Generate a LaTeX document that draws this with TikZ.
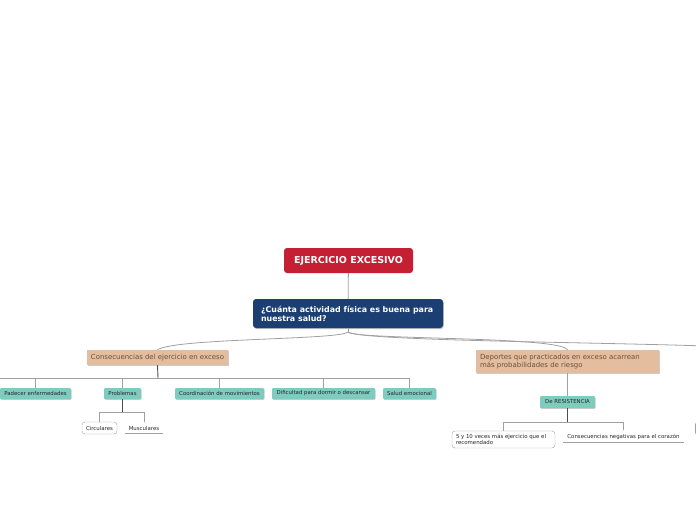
\documentclass[tikz,border=0pt]{standalone}
\usepackage{fontspec}
\setmainfont{DejaVu Sans}
\usetikzlibrary{shadows}

\definecolor{rootred}{HTML}{C41F33}
\definecolor{qblue}{HTML}{1C3F73}
\definecolor{tanfill}{HTML}{E3BD9D}
\definecolor{tantext}{HTML}{6A5040}
\definecolor{tealfill}{HTML}{7ECCBF}
\definecolor{linegray}{HTML}{A0A0A0}

\tikzset{
  rootbox/.style={fill=rootred, rounded corners=3pt, text=white, font=\fontsize{9.5}{10}\selectfont\bfseries,
    minimum width=129pt, minimum height=25pt, inner sep=0pt},
  qbox/.style={fill=qblue, rounded corners=3pt, text=white, font=\fontsize{7.9}{8.9}\selectfont\bfseries,
    minimum width=190pt, minimum height=29pt, inner sep=0pt, align=left,
    drop shadow={shadow xshift=0.8pt, shadow yshift=-1pt, fill=black, opacity=.25}},
  tanbox/.style={fill=tanfill, text=tantext, font=\fontsize{6.95}{8.8}\selectfont, inner sep=0pt,
    drop shadow={shadow xshift=0.6pt, shadow yshift=-0.8pt, fill=black, opacity=.2}},
  tealbox/.style={fill=tealfill, text=black!85, font=\fontsize{5.4}{6.5}\selectfont, inner sep=0pt,
    minimum height=11pt, rounded corners=1pt,
    drop shadow={shadow xshift=0.5pt, shadow yshift=-0.8pt, fill=black, opacity=.2}},
  whitebox/.style={draw=linegray, fill=white, rounded corners=3pt, text=black!85,
    font=\fontsize{5.4}{6.2}\selectfont, inner sep=0pt, align=left},
  underbox/.style={text=black!85, font=\fontsize{5.4}{6.5}\selectfont, inner sep=0pt,
    path picture={\draw[linegray, line width=0.8pt] (path picture bounding box.south west) -- (path picture bounding box.south east);}},
  branch/.style={draw=linegray, line width=0.8pt},
  stem/.style={draw=black!70, line width=0.9pt},
  curve/.style={draw=linegray, line width=0.8pt}
}

\begin{document}
\begin{tikzpicture}[x=1pt, y=-1pt]
\useasboundingbox (0,0) rectangle (696,520);
\clip (0,0) rectangle (696,520);

% main nodes
\node[rootbox] (root) at (348.5,260.5) {\raisebox{-1pt}{EJERCICIO EXCESIVO}};
\node[qbox] (question) at (348,313.5) {\hspace*{8pt}\parbox{182pt}{¿Cuánta actividad física es buena para\\nuestra salud?}};

\node[tanbox, minimum width=141pt, minimum height=15pt] (conseq) at (157.5,357.5) {Consecuencias del ejercicio en exceso};
\node[tanbox, minimum width=183pt, minimum height=23pt, align=left] (deportes) at (567.5,361.5)
  {\parbox{175pt}{Deportes que practicados en exceso acarrean\\más probabilidades de riesgo}};

% consecuencias
\node[tealbox, minimum width=71pt] (padecer) at (35.5,393.5) {Padecer enfermedades};
\node[tealbox, minimum width=37pt] (problemas) at (122.5,393.5) {Problemas};
\node[tealbox, minimum width=89pt] (coord) at (219.5,393.5) {Coordinación de movimientos};
\node[tealbox, minimum width=103pt] (dormir) at (323.5,393.5) {Dificultad para dormir o descansar};
\node[tealbox, minimum width=53pt] (emocional) at (409.5,393.5) {Salud emocional};

\node[whitebox, minimum width=35pt, minimum height=12pt] (circulares) at (99.5,428) {Circulares};
\node[underbox, minimum width=38pt, minimum height=11pt] (musculares) at (144,428) {Musculares};

% deportes
\node[tealbox, minimum width=55pt, minimum height=12pt] (resist) at (567.5,402) {De RESISTENCIA};
\node[whitebox, minimum width=103pt, minimum height=17pt] (veces) at (503.5,439.5)
  {\parbox{95pt}{5 y 10 veces más ejercicio que el\\recomendado}};
\node[underbox, minimum width=121pt, minimum height=12pt] (corazon) at (623.5,436.5) {Consecuencias negativas para el corazón};

% cut-off nodes at the edges
\draw[linegray, line width=0.8pt, rounded corners=2pt, fill=white] (695.5,422.5) rectangle (740,434.5);

% connectors
\coordinate (qfoot) at (348,332);
\coordinate (offright) at (720,346.5);
\coordinate (offleft) at (-10,378);
\coordinate (cbar) at (158,378);
\coordinate (pbar) at (122.5,412);
\coordinate (rbar) at (567.5,422);

\draw[branch] (root) -- (question);
\draw[curve] (question.south) -- (qfoot);
\draw[curve] (qfoot) .. controls (340,340) and (175,338) .. (conseq.north);
\draw[curve] (qfoot) .. controls (356,340) and (560,336) .. (deportes.north);
\draw[curve] (qfoot) .. controls (360,341) and (600,342) .. (offright);

\draw[branch] (offleft) -- (cbar);
\foreach \n in {padecer, problemas, coord, dormir, emocional}
  \draw[branch] (\n.north) |- (cbar);
\draw[stem] (conseq.south) -- (cbar);

\draw[stem] (problemas.south) -- (pbar);
\draw[branch] (circulares.north) |- (pbar);
\draw[branch] (musculares.north) |- (pbar);

\draw[branch] (deportes.south) -- (resist.north);
\draw[stem] (resist.south) -- (rbar);
\draw[branch] (veces.north) |- (rbar);
\draw[branch] (corazon.north) |- (rbar);
\end{tikzpicture}
\end{document}
